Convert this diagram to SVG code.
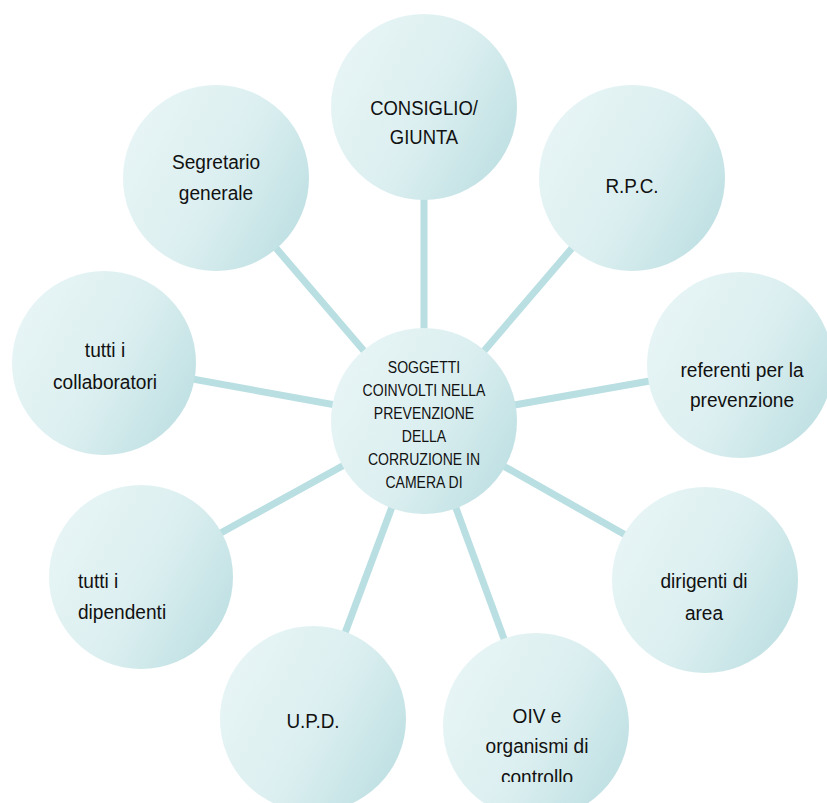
<svg xmlns="http://www.w3.org/2000/svg" width="827" height="803" viewBox="0 0 827 803">
<defs>
<linearGradient id="g" x1="0.05" y1="0.3" x2="0.95" y2="0.8">
<stop offset="0" stop-color="#e6f4f5"/>
<stop offset="0.5" stop-color="#dceff0"/>
<stop offset="1" stop-color="#bfe0e3"/>
</linearGradient>
<clipPath id="clipOiv"><rect x="430" y="620" width="220" height="162"/></clipPath>
</defs>
<style>
.c{fill:url(#g);stroke:none}
.l{stroke:#b9dfe2;stroke-width:7;fill:none}
.t{font-family:"Liberation Sans",Arial,sans-serif;font-size:21px;fill:#111;text-anchor:middle}
.s{font-family:"Liberation Sans",Arial,sans-serif;font-size:16.5px;fill:#111;text-anchor:middle}
</style>
<rect width="827" height="803" fill="#fff"/>
<g id="connectors">
<line class="l" x1="424" y1="421" x2="424" y2="107"/>
<line class="l" x1="424" y1="421" x2="632" y2="178"/>
<line class="l" x1="424" y1="421" x2="740" y2="365"/>
<line class="l" x1="424" y1="421" x2="705" y2="580"/>
<line class="l" x1="424" y1="421" x2="536" y2="726"/>
<line class="l" x1="424" y1="421" x2="313" y2="719"/>
<line class="l" x1="424" y1="421" x2="141" y2="577"/>
<line class="l" x1="424" y1="421" x2="104" y2="363"/>
<line class="l" x1="424" y1="421" x2="216" y2="178"/>
</g>
<g id="center">
<circle class="c" cx="424" cy="421" r="93"/>
<g transform="translate(424 0) scale(0.85 1)">
<text class="s" x="0" y="373">SOGGETTI</text>
<text class="s" x="0" y="396">COINVOLTI NELLA</text>
<text class="s" x="0" y="419">PREVENZIONE</text>
<text class="s" x="0" y="442">DELLA</text>
<text class="s" x="0" y="465">CORRUZIONE IN</text>
<text class="s" x="0" y="488">CAMERA DI</text>
</g>
</g>
<g id="consiglio">
<circle class="c" cx="424" cy="107" r="93"/>
<g transform="translate(424 0) scale(0.88 1)">
<text class="t" x="0" y="115">CONSIGLIO/</text>
<text class="t" x="0" y="144">GIUNTA</text>
</g>
</g>
<g id="rpc">
<circle class="c" cx="632" cy="178" r="93"/>
<g transform="translate(632 0) scale(0.9 1)">
<text class="t" x="0" y="193">R.P.C.</text>
</g>
</g>
<g id="referenti">
<circle class="c" cx="740" cy="365" r="93"/>
<g transform="translate(742 0) scale(0.91 1)">
<text class="t" x="0" y="377">referenti per la</text>
<text class="t" x="0" y="407">prevenzione</text>
</g>
</g>
<g id="dirigenti">
<circle class="c" cx="705" cy="580" r="93"/>
<g transform="translate(704 0) scale(0.91 1)">
<text class="t" x="0" y="588">dirigenti di</text>
<text class="t" x="0" y="620">area</text>
</g>
</g>
<g id="oiv">
<circle class="c" cx="536" cy="726" r="93"/>
<g clip-path="url(#clipOiv)">
<g transform="translate(537 0) scale(0.91 1)">
<text class="t" x="0" y="723">OIV e</text>
<text class="t" x="0" y="753">organismi di</text>
<text class="t" x="0" y="784">controllo</text>
</g>
</g>
</g>
<g id="upd">
<circle class="c" cx="313" cy="719" r="93"/>
<g transform="translate(313 0) scale(0.9 1)">
<text class="t" x="0" y="728">U.P.D.</text>
</g>
</g>
<g id="dipendenti">
<circle class="c" cx="141" cy="577" r="92"/>
<g transform="translate(78 0) scale(0.91 1)">
<text class="t" x="0" y="588" style="text-anchor:start">tutti i</text>
<text class="t" x="0" y="619" style="text-anchor:start">dipendenti</text>
</g>
</g>
<g id="collaboratori">
<circle class="c" cx="104" cy="363" r="92"/>
<g transform="translate(105 0) scale(0.91 1)">
<text class="t" x="0" y="357">tutti i</text>
<text class="t" x="0" y="389">collaboratori</text>
</g>
</g>
<g id="segretario">
<circle class="c" cx="216" cy="178" r="93"/>
<g transform="translate(216 0) scale(0.91 1)">
<text class="t" x="0" y="169">Segretario</text>
<text class="t" x="0" y="200">generale</text>
</g>
</g>
</svg>
